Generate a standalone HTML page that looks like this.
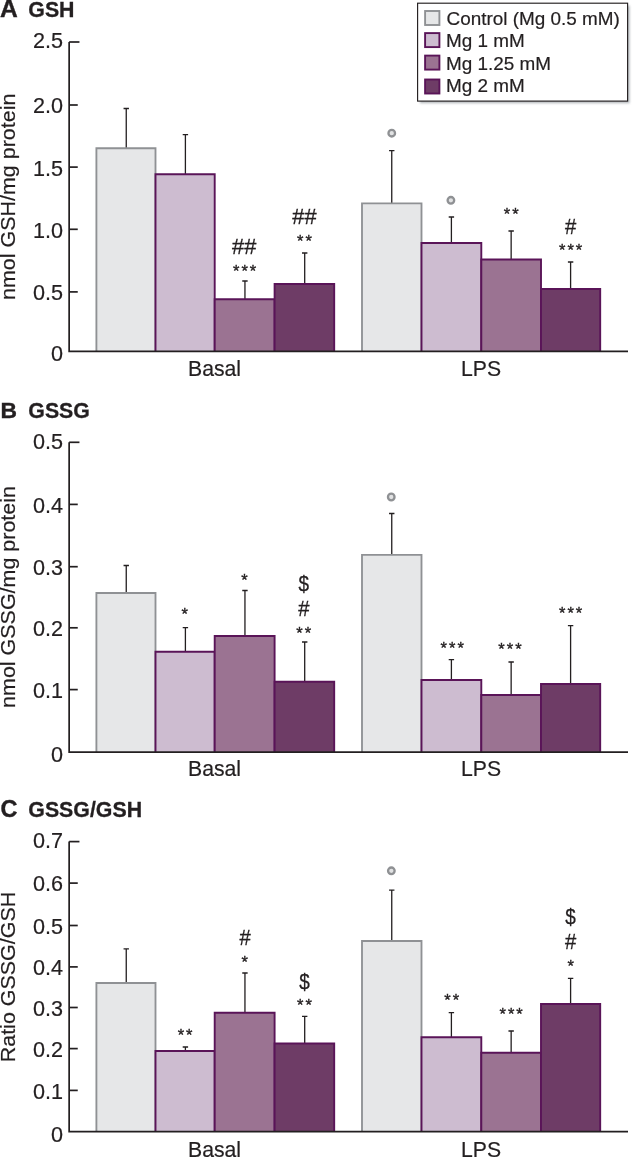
<!DOCTYPE html>
<html lang="en">
<head>
<meta charset="utf-8">
<title>GSH, GSSG and GSSG/GSH ratio</title>
<style>
html,body{margin:0;padding:0;background:#fff;}
body{width:633px;height:1157px;overflow:hidden;}
svg{display:block;font-family:"Liberation Sans",sans-serif;}
</style>
</head>
<body>
<svg width="633" height="1157" viewBox="0 0 633 1157">
<rect width="633" height="1157" fill="#fff"/>
<text transform="translate(0.0 17) scale(1.0 1)" font-size="24.6" font-weight="bold" fill="#231f20" stroke="#231f20" stroke-width="0.4">A</text>
<text transform="translate(28.3 17) scale(0.94 1)" font-size="22.7" font-weight="bold" fill="#231f20" stroke="#231f20" stroke-width="0.3">GSH</text>
<path d="M126.25 148.2 V108.5 M123.55 108.5 H128.95" stroke="#231f20" stroke-width="1.3" fill="none"/>
<path d="M185.40 174.2 V134.6 M182.70 134.6 H188.10" stroke="#231f20" stroke-width="1.3" fill="none"/>
<path d="M244.95 299.2 V281 M242.25 281 H247.65" stroke="#231f20" stroke-width="1.3" fill="none"/>
<path d="M304.70 284 V253 M302.00 253 H307.40" stroke="#231f20" stroke-width="1.3" fill="none"/>
<path d="M96.40 351.3 V148.2 H155.50 V351.3" fill="#e6e7e8" stroke="#8f9194" stroke-width="1.85"/>
<path d="M155.50 351.3 V174.2 H214.70 V351.3" fill="#cdbcd0" stroke="#5a1458" stroke-width="1.9"/>
<path d="M214.70 351.3 V299.2 H274.60 V351.3" fill="#9b7392" stroke="#5a1458" stroke-width="1.9"/>
<path d="M274.60 351.3 V284 H334.20 V351.3" fill="#6e3c66" stroke="#5a1458" stroke-width="1.9"/>
<text x="233.03 241.43 249.83" y="277.06" font-size="16.5" fill="#231f20" stroke="#231f20" stroke-width="0.35">***</text>
<text transform="translate(244.15 254.0) scale(1.0 1)" font-size="21.8" text-anchor="middle" fill="#231f20" stroke="#231f20" stroke-width="0.3">##</text>
<text x="296.98 305.38" y="247.06" font-size="16.5" fill="#231f20" stroke="#231f20" stroke-width="0.35">**</text>
<text transform="translate(304.40 224.0) scale(1.0 1)" font-size="21.8" text-anchor="middle" fill="#231f20" stroke="#231f20" stroke-width="0.3">##</text>
<path d="M391.75 203.4 V150.6 M389.05 150.6 H394.45" stroke="#231f20" stroke-width="1.3" fill="none"/>
<path d="M451.40 243 V217 M448.70 217 H454.10" stroke="#231f20" stroke-width="1.3" fill="none"/>
<path d="M511.15 259.5 V231 M508.45 231 H513.85" stroke="#231f20" stroke-width="1.3" fill="none"/>
<path d="M570.60 289 V262 M567.90 262 H573.30" stroke="#231f20" stroke-width="1.3" fill="none"/>
<path d="M362.00 351.3 V203.4 H421.50 V351.3" fill="#e6e7e8" stroke="#8f9194" stroke-width="1.85"/>
<path d="M421.50 351.3 V243 H481.30 V351.3" fill="#cdbcd0" stroke="#5a1458" stroke-width="1.9"/>
<path d="M481.30 351.3 V259.5 H541.00 V351.3" fill="#9b7392" stroke="#5a1458" stroke-width="1.9"/>
<path d="M541.00 351.3 V289 H600.20 V351.3" fill="#6e3c66" stroke="#5a1458" stroke-width="1.9"/>
<circle cx="391.75" cy="133.2" r="3.3" fill="#e1e2e3" stroke="#8f9194" stroke-width="2.3"/>
<circle cx="450.90" cy="200.3" r="3.3" fill="#e1e2e3" stroke="#8f9194" stroke-width="2.3"/>
<text x="503.73 512.13" y="219.76" font-size="16.5" fill="#231f20" stroke="#231f20" stroke-width="0.35">**</text>
<text x="558.98 567.38 575.78" y="256.36" font-size="16.5" fill="#231f20" stroke="#231f20" stroke-width="0.35">***</text>
<text transform="translate(570.60 233.9) scale(0.93 1)" font-size="21.8" text-anchor="middle" fill="#231f20" stroke="#231f20" stroke-width="0.3">#</text>
<path d="M69.15 42 V351.3 H628" stroke="#231f20" stroke-width="1.7" fill="none"/>
<path d="M69.15 42 H79.45" stroke="#231f20" stroke-width="1.7" fill="none"/>
<text transform="translate(63.0 48.3) scale(1.0 1)" font-size="21.6" text-anchor="end" fill="#231f20" stroke="#231f20" stroke-width="0.2">2.5</text>
<path d="M69.15 105.0 H77.75" stroke="#231f20" stroke-width="1.7" fill="none"/>
<text transform="translate(63.0 113.4) scale(1.0 1)" font-size="21.6" text-anchor="end" fill="#231f20" stroke="#231f20" stroke-width="0.2">2.0</text>
<path d="M69.15 167.1 H77.75" stroke="#231f20" stroke-width="1.7" fill="none"/>
<text transform="translate(63.0 175.5) scale(1.0 1)" font-size="21.6" text-anchor="end" fill="#231f20" stroke="#231f20" stroke-width="0.2">1.5</text>
<path d="M69.15 229.3 H77.75" stroke="#231f20" stroke-width="1.7" fill="none"/>
<text transform="translate(63.0 237.70000000000002) scale(1.0 1)" font-size="21.6" text-anchor="end" fill="#231f20" stroke="#231f20" stroke-width="0.2">1.0</text>
<path d="M69.15 291.9 H77.75" stroke="#231f20" stroke-width="1.7" fill="none"/>
<text transform="translate(63.0 300.29999999999995) scale(1.0 1)" font-size="21.6" text-anchor="end" fill="#231f20" stroke="#231f20" stroke-width="0.2">0.5</text>
<text transform="translate(63.0 361.2) scale(1.0 1)" font-size="21.6" text-anchor="end" fill="#231f20" stroke="#231f20" stroke-width="0.2">0</text>
<text transform="translate(15.4 196.8) rotate(-90) scale(1.09 1)" font-size="19.7" text-anchor="middle" fill="#231f20" stroke="#231f20" stroke-width="0.2">nmol GSH/mg protein</text>
<text transform="translate(214.5 376.0) scale(1.0 1)" font-size="21.2" text-anchor="middle" fill="#231f20" stroke="#231f20" stroke-width="0.2">Basal</text>
<text transform="translate(481.1 376.0) scale(1.0 1)" font-size="21.2" text-anchor="middle" fill="#231f20" stroke="#231f20" stroke-width="0.2">LPS</text>
<text transform="translate(0.6 417.5) scale(1.0 1)" font-size="22.8" font-weight="bold" fill="#231f20" stroke="#231f20" stroke-width="0.4">B</text>
<text transform="translate(28.3 417.5) scale(0.94 1)" font-size="22.7" font-weight="bold" fill="#231f20" stroke="#231f20" stroke-width="0.3">GSSG</text>
<path d="M126.25 593 V565.5 M123.55 565.5 H128.95" stroke="#231f20" stroke-width="1.3" fill="none"/>
<path d="M185.40 651.7 V627.7 M182.70 627.7 H188.10" stroke="#231f20" stroke-width="1.3" fill="none"/>
<path d="M244.95 636 V590.5 M242.25 590.5 H247.65" stroke="#231f20" stroke-width="1.3" fill="none"/>
<path d="M304.70 681.7 V642 M302.00 642 H307.40" stroke="#231f20" stroke-width="1.3" fill="none"/>
<path d="M96.40 751.9 V593 H155.50 V751.9" fill="#e6e7e8" stroke="#8f9194" stroke-width="1.85"/>
<path d="M155.50 751.9 V651.7 H214.70 V751.9" fill="#cdbcd0" stroke="#5a1458" stroke-width="1.9"/>
<path d="M214.70 751.9 V636 H274.60 V751.9" fill="#9b7392" stroke="#5a1458" stroke-width="1.9"/>
<path d="M274.60 751.9 V681.7 H334.20 V751.9" fill="#6e3c66" stroke="#5a1458" stroke-width="1.9"/>
<text x="181.38" y="620.36" font-size="16.5" fill="#231f20" stroke="#231f20" stroke-width="0.35">*</text>
<text x="241.13" y="585.96" font-size="16.5" fill="#231f20" stroke="#231f20" stroke-width="0.35">*</text>
<text x="296.28 304.68" y="638.96" font-size="16.5" fill="#231f20" stroke="#231f20" stroke-width="0.35">**</text>
<text transform="translate(303.80 615.8) scale(0.93 1)" font-size="21.8" text-anchor="middle" fill="#231f20" stroke="#231f20" stroke-width="0.3">#</text>
<text transform="translate(303.80 591.0) scale(0.86 1)" font-size="22.0" text-anchor="middle" fill="#231f20" stroke="#231f20" stroke-width="0.3">$</text>
<path d="M391.75 554.9 V513.5 M389.05 513.5 H394.45" stroke="#231f20" stroke-width="1.3" fill="none"/>
<path d="M451.40 680 V659.6 M448.70 659.6 H454.10" stroke="#231f20" stroke-width="1.3" fill="none"/>
<path d="M511.15 695 V662 M508.45 662 H513.85" stroke="#231f20" stroke-width="1.3" fill="none"/>
<path d="M570.60 684 V625.6 M567.90 625.6 H573.30" stroke="#231f20" stroke-width="1.3" fill="none"/>
<path d="M362.00 751.9 V554.9 H421.50 V751.9" fill="#e6e7e8" stroke="#8f9194" stroke-width="1.85"/>
<path d="M421.50 751.9 V680 H481.30 V751.9" fill="#cdbcd0" stroke="#5a1458" stroke-width="1.9"/>
<path d="M481.30 751.9 V695 H541.00 V751.9" fill="#9b7392" stroke="#5a1458" stroke-width="1.9"/>
<path d="M541.00 751.9 V684 H600.20 V751.9" fill="#6e3c66" stroke="#5a1458" stroke-width="1.9"/>
<circle cx="391.25" cy="497" r="3.3" fill="#e1e2e3" stroke="#8f9194" stroke-width="2.3"/>
<text x="440.58 448.98 457.38" y="653.56" font-size="16.5" fill="#231f20" stroke="#231f20" stroke-width="0.35">***</text>
<text x="498.33 506.73 515.13" y="655.36" font-size="16.5" fill="#231f20" stroke="#231f20" stroke-width="0.35">***</text>
<text x="558.98 567.38 575.78" y="618.76" font-size="16.5" fill="#231f20" stroke="#231f20" stroke-width="0.35">***</text>
<path d="M69.15 442.3 V752.2 H628" stroke="#231f20" stroke-width="1.7" fill="none"/>
<path d="M69.15 442.3 H79.45" stroke="#231f20" stroke-width="1.7" fill="none"/>
<text transform="translate(63.0 448.6) scale(1.0 1)" font-size="21.6" text-anchor="end" fill="#231f20" stroke="#231f20" stroke-width="0.2">0.5</text>
<path d="M69.15 504.4 H77.75" stroke="#231f20" stroke-width="1.7" fill="none"/>
<text transform="translate(63.0 512.8) scale(1.0 1)" font-size="21.6" text-anchor="end" fill="#231f20" stroke="#231f20" stroke-width="0.2">0.4</text>
<path d="M69.15 566.7 H77.75" stroke="#231f20" stroke-width="1.7" fill="none"/>
<text transform="translate(63.0 575.1) scale(1.0 1)" font-size="21.6" text-anchor="end" fill="#231f20" stroke="#231f20" stroke-width="0.2">0.3</text>
<path d="M69.15 627.8 H77.75" stroke="#231f20" stroke-width="1.7" fill="none"/>
<text transform="translate(63.0 636.1999999999999) scale(1.0 1)" font-size="21.6" text-anchor="end" fill="#231f20" stroke="#231f20" stroke-width="0.2">0.2</text>
<path d="M69.15 689.6 H77.75" stroke="#231f20" stroke-width="1.7" fill="none"/>
<text transform="translate(63.0 698.0) scale(1.0 1)" font-size="21.6" text-anchor="end" fill="#231f20" stroke="#231f20" stroke-width="0.2">0.1</text>
<text transform="translate(63.0 762.1) scale(1.0 1)" font-size="21.6" text-anchor="end" fill="#231f20" stroke="#231f20" stroke-width="0.2">0</text>
<text transform="translate(15.4 597) rotate(-90) scale(1.09 1)" font-size="19.7" text-anchor="middle" fill="#231f20" stroke="#231f20" stroke-width="0.2">nmol GSSG/mg protein</text>
<text transform="translate(214.5 776.2) scale(1.0 1)" font-size="21.2" text-anchor="middle" fill="#231f20" stroke="#231f20" stroke-width="0.2">Basal</text>
<text transform="translate(481.1 776.2) scale(1.0 1)" font-size="21.2" text-anchor="middle" fill="#231f20" stroke="#231f20" stroke-width="0.2">LPS</text>
<text transform="translate(0.6 817) scale(0.98 1)" font-size="24.0" font-weight="bold" fill="#231f20" stroke="#231f20" stroke-width="0.4">C</text>
<text transform="translate(28.3 817) scale(0.94 1)" font-size="22.7" font-weight="bold" fill="#231f20" stroke="#231f20" stroke-width="0.3">GSSG/GSH</text>
<path d="M126.25 983 V948.8 M123.55 948.8 H128.95" stroke="#231f20" stroke-width="1.3" fill="none"/>
<path d="M185.40 1051 V1047 M182.70 1047 H188.10" stroke="#231f20" stroke-width="1.3" fill="none"/>
<path d="M244.95 1012.7 V973 M242.25 973 H247.65" stroke="#231f20" stroke-width="1.3" fill="none"/>
<path d="M304.70 1043.5 V1016.4 M302.00 1016.4 H307.40" stroke="#231f20" stroke-width="1.3" fill="none"/>
<path d="M96.40 1131.4 V983 H155.50 V1131.4" fill="#e6e7e8" stroke="#8f9194" stroke-width="1.85"/>
<path d="M155.50 1131.4 V1051 H214.70 V1131.4" fill="#cdbcd0" stroke="#5a1458" stroke-width="1.9"/>
<path d="M214.70 1131.4 V1012.7 H274.60 V1131.4" fill="#9b7392" stroke="#5a1458" stroke-width="1.9"/>
<path d="M274.60 1131.4 V1043.5 H334.20 V1131.4" fill="#6e3c66" stroke="#5a1458" stroke-width="1.9"/>
<text x="177.68 186.08" y="1041.46" font-size="16.5" fill="#231f20" stroke="#231f20" stroke-width="0.35">**</text>
<text x="241.43" y="968.06" font-size="16.5" fill="#231f20" stroke="#231f20" stroke-width="0.35">*</text>
<text transform="translate(245.05 945.3) scale(0.93 1)" font-size="21.8" text-anchor="middle" fill="#231f20" stroke="#231f20" stroke-width="0.3">#</text>
<text x="296.98 305.38" y="1011.36" font-size="16.5" fill="#231f20" stroke="#231f20" stroke-width="0.35">**</text>
<text transform="translate(304.40 989.0) scale(0.86 1)" font-size="22.0" text-anchor="middle" fill="#231f20" stroke="#231f20" stroke-width="0.3">$</text>
<path d="M391.75 941 V890.2 M389.05 890.2 H394.45" stroke="#231f20" stroke-width="1.3" fill="none"/>
<path d="M451.40 1037.3 V1012.6 M448.70 1012.6 H454.10" stroke="#231f20" stroke-width="1.3" fill="none"/>
<path d="M511.15 1052.8 V1031 M508.45 1031 H513.85" stroke="#231f20" stroke-width="1.3" fill="none"/>
<path d="M570.60 1004 V978.3 M567.90 978.3 H573.30" stroke="#231f20" stroke-width="1.3" fill="none"/>
<path d="M362.00 1131.4 V941 H421.50 V1131.4" fill="#e6e7e8" stroke="#8f9194" stroke-width="1.85"/>
<path d="M421.50 1131.4 V1037.3 H481.30 V1131.4" fill="#cdbcd0" stroke="#5a1458" stroke-width="1.9"/>
<path d="M481.30 1131.4 V1052.8 H541.00 V1131.4" fill="#9b7392" stroke="#5a1458" stroke-width="1.9"/>
<path d="M541.00 1131.4 V1004 H600.20 V1131.4" fill="#6e3c66" stroke="#5a1458" stroke-width="1.9"/>
<circle cx="391.35" cy="870.8" r="3.3" fill="#e1e2e3" stroke="#8f9194" stroke-width="2.3"/>
<text x="444.28 452.68" y="1005.76" font-size="16.5" fill="#231f20" stroke="#231f20" stroke-width="0.35">**</text>
<text x="499.53 507.93 516.33" y="1020.36" font-size="16.5" fill="#231f20" stroke="#231f20" stroke-width="0.35">***</text>
<text x="567.38" y="971.96" font-size="16.5" fill="#231f20" stroke="#231f20" stroke-width="0.35">*</text>
<text transform="translate(570.60 949.3) scale(0.93 1)" font-size="21.8" text-anchor="middle" fill="#231f20" stroke="#231f20" stroke-width="0.3">#</text>
<text transform="translate(570.60 923.7) scale(0.86 1)" font-size="22.0" text-anchor="middle" fill="#231f20" stroke="#231f20" stroke-width="0.3">$</text>
<path d="M69.15 841.6 V1131.7 H628" stroke="#231f20" stroke-width="1.7" fill="none"/>
<path d="M69.15 841.6 H79.45" stroke="#231f20" stroke-width="1.7" fill="none"/>
<text transform="translate(63.0 848.2) scale(1.0 1)" font-size="21.6" text-anchor="end" fill="#231f20" stroke="#231f20" stroke-width="0.2">0.7</text>
<path d="M69.15 883.1 H77.75" stroke="#231f20" stroke-width="1.7" fill="none"/>
<text transform="translate(63.0 891.0) scale(1.0 1)" font-size="21.6" text-anchor="end" fill="#231f20" stroke="#231f20" stroke-width="0.2">0.6</text>
<path d="M69.15 925.5 H77.75" stroke="#231f20" stroke-width="1.7" fill="none"/>
<text transform="translate(63.0 933.9) scale(1.0 1)" font-size="21.6" text-anchor="end" fill="#231f20" stroke="#231f20" stroke-width="0.2">0.5</text>
<path d="M69.15 966.9 H77.75" stroke="#231f20" stroke-width="1.7" fill="none"/>
<text transform="translate(63.0 975.3) scale(1.0 1)" font-size="21.6" text-anchor="end" fill="#231f20" stroke="#231f20" stroke-width="0.2">0.4</text>
<path d="M69.15 1007.5 H77.75" stroke="#231f20" stroke-width="1.7" fill="none"/>
<text transform="translate(63.0 1015.9) scale(1.0 1)" font-size="21.6" text-anchor="end" fill="#231f20" stroke="#231f20" stroke-width="0.2">0.3</text>
<path d="M69.15 1048.6 H77.75" stroke="#231f20" stroke-width="1.7" fill="none"/>
<text transform="translate(63.0 1057.0) scale(1.0 1)" font-size="21.6" text-anchor="end" fill="#231f20" stroke="#231f20" stroke-width="0.2">0.2</text>
<path d="M69.15 1090.4 H77.75" stroke="#231f20" stroke-width="1.7" fill="none"/>
<text transform="translate(63.0 1098.8000000000002) scale(1.0 1)" font-size="21.6" text-anchor="end" fill="#231f20" stroke="#231f20" stroke-width="0.2">0.1</text>
<text transform="translate(63.0 1142) scale(1.0 1)" font-size="21.6" text-anchor="end" fill="#231f20" stroke="#231f20" stroke-width="0.2">0</text>
<text transform="translate(15.4 977) rotate(-90) scale(1.09 1)" font-size="19.7" text-anchor="middle" fill="#231f20" stroke="#231f20" stroke-width="0.2">Ratio GSSG/GSH</text>
<text transform="translate(214.5 1156.6) scale(1.0 1)" font-size="21.2" text-anchor="middle" fill="#231f20" stroke="#231f20" stroke-width="0.2">Basal</text>
<text transform="translate(481.1 1156.6) scale(1.0 1)" font-size="21.2" text-anchor="middle" fill="#231f20" stroke="#231f20" stroke-width="0.2">LPS</text>
<defs><filter id="sh" x="-10%" y="-10%" width="120%" height="130%"><feGaussianBlur stdDeviation="0.9"/></filter></defs>
<rect x="420" y="5.6" width="209.6" height="97.6" fill="#9aa0a6" opacity="0.75" filter="url(#sh)"/>
<rect x="417.6" y="3.2" width="210.0" height="97.9" fill="#fff" stroke="#231f20" stroke-width="1.15"/>
<rect x="425.1" y="11.0" width="14.3" height="14" fill="#e6e7e8" stroke="#8f9194" stroke-width="1.9"/>
<text transform="translate(446.6 24.8) scale(1.0 1)" font-size="18.9" fill="#231f20" stroke="#231f20" stroke-width="0.2">Control (Mg 0.5 mM)</text>
<rect x="425.1" y="33.1" width="14.3" height="14" fill="#cdbcd0" stroke="#5a1458" stroke-width="1.9"/>
<text transform="translate(446.0 46.8) scale(1.0 1)" font-size="18.9" fill="#231f20" stroke="#231f20" stroke-width="0.2">Mg 1 mM</text>
<rect x="425.1" y="55.6" width="14.3" height="14" fill="#9b7392" stroke="#5a1458" stroke-width="1.9"/>
<text transform="translate(446.0 69.5) scale(1.0 1)" font-size="18.9" fill="#231f20" stroke="#231f20" stroke-width="0.2">Mg 1.25 mM</text>
<rect x="425.1" y="79.5" width="14.3" height="14" fill="#6e3c66" stroke="#5a1458" stroke-width="1.9"/>
<text transform="translate(446.0 92.4) scale(1.0 1)" font-size="18.9" fill="#231f20" stroke="#231f20" stroke-width="0.2">Mg 2 mM</text>
</svg>
</body>
</html>
